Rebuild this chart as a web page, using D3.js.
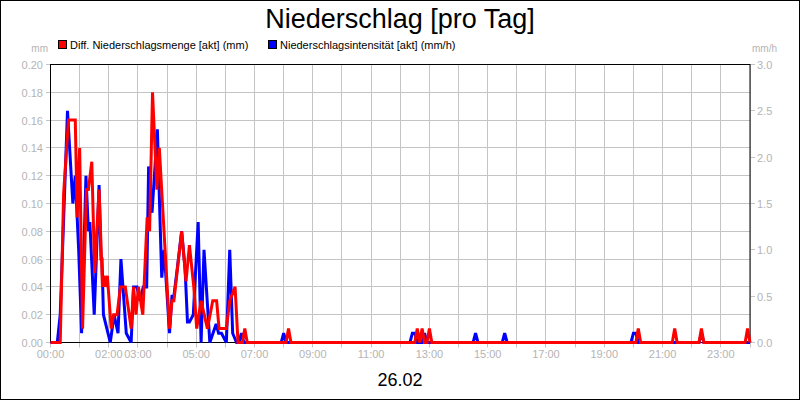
<!DOCTYPE html>
<html><head><meta charset="utf-8">
<script src="https://cdn.jsdelivr.net/npm/d3@7"></script>
<style>body{margin:0;background:#fff}svg{display:block;font-family:"Liberation Sans",Arial,sans-serif}</style>
</head><body>
<svg id="c" width="800" height="400"></svg>
<script>
// ---- data ----
const title = "Niederschlag [pro Tag]";
const dateLabel = "26.02";
const legendLabels = ["Diff. Niederschlagsmenge [akt] (mm)", "Niederschlagsintensität [akt] (mm/h)"];
const seriesColors = ["#ff0000", "#0000ff"];
const leftUnit = "mm", rightUnit = "mm/h";
const leftTicks = [0,0.02,0.04,0.06,0.08,0.10,0.12,0.14,0.16,0.18,0.20];
const rightTicks = [0,0.5,1.0,1.5,2.0,2.5,3.0];
const xTickHours = [0,2,3,5,7,9,11,13,15,17,19,21,23];
const xTickLabels = ["00:00","02:00","03:00","05:00","07:00","09:00","11:00","13:00","15:00","17:00","19:00","21:00","23:00"];
// minutes after midnight
const redTimes = [0,20,27,37,51,55,60,66,74,78,85,91,100,107,110,113,117,125,130,137,144,154,166,171,176,181,190,199,204,210,219,224,245,250,254,261,270,279,286,295,301,310,323,334,342,347,362,369,380,386,395,400,405,485,490,495,750,755,760,765,770,775,780,785,1205,1210,1215,1280,1285,1290,1335,1340,1345,1430,1435,1440];
const redValues = [0,0,0.107,0.16,0.16,0.09,0.14,0.01,0.11,0.11,0.13,0.05,0.11,0.04,0.048,0.04,0.048,0.01,0.02,0.02,0.04,0.04,0.01,0.04,0.02,0.04,0.02,0.09,0.08,0.18,0.11,0.14,0.01,0.03,0.03,0.052,0.08,0.044,0.07,0.04,0.01,0.03,0.01,0.03,0.03,0.01,0.01,0.03,0.04,0,0,0.01,0,0,0.01,0,0,0.01,0,0.01,0,0,0.01,0,0,0.01,0,0,0.01,0,0,0.01,0,0,0.01,0];
const blueTimes = [0,14,20,35,44,46,51,58,64,73,78,81,90,100,104,106,109,123,131,139,145,156,166,171,178,184,191,198,202,209,220,229,234,245,250,254,261,270,277,282,286,294,304,310,316,328,341,346,352,362,369,375,383,388,393,398,475,480,485,740,745,750,755,765,770,775,870,875,880,930,935,940,1195,1200,1205,1210,1335,1340,1345,1440];
const blueValues = [0,0,0.3,2.5,1.68,1.5,1.8,1.0,0.1,1.8,1.2,1.3,0.3,1.7,0.9,0.9,0.3,0,0.3,0.1,0.9,0.1,0,0.6,0.6,0.45,0.6,0.6,1.9,1.4,2.3,0.7,1.0,0.1,0.5,0.5,0.8,1.2,0.8,0.22,0.22,0.3,1.3,0,1.0,0,0.2,0.1,0.1,0,1.0,0.1,0,0,0.1,0,0,0.1,0,0,0.1,0.1,0,0,0.1,0,0,0.1,0,0,0.1,0,0,0.1,0.1,0,0,0.1,0,0];

// ---- layout ----
const svg = d3.select("#c");
const L = 50.5, R = 750, T = 64.5, B = 342.5;
const x = d3.scaleLinear().domain([0, 1440]).range([L, R]);
const yL = d3.scaleLinear().domain([0, 0.2]).range([B, T]);
const yR = d3.scaleLinear().domain([0, 3]).range([B, T]);
const grey = "#b4b4b4", gridC = "#c4c4c4";
const snap = v => Math.round(v - 0.5) + 0.5;

// outer frame
svg.append("rect").attr("x",0.5).attr("y",0.5).attr("width",799).attr("height",399)
  .attr("fill","#fff").attr("stroke","#000");

// title
svg.append("text").attr("x",400).attr("y",28).attr("text-anchor","middle")
  .attr("font-size",27).attr("fill","#000").text(title);
svg.append("text").attr("x",400).attr("y",386).attr("text-anchor","middle")
  .attr("font-size",18).attr("fill","#000").text(dateLabel);

// legend
const legX = [58, 268];
legendLabels.forEach((t,i)=>{
  svg.append("rect").attr("x",legX[i]+0.5).attr("y",40.5).attr("width",8).attr("height",8)
    .attr("fill",seriesColors[i]).attr("stroke","#000");
  svg.append("text").attr("x",legX[i]+12).attr("y",48.5).attr("font-size",11).attr("fill","#000").text(t);
});

// units
svg.append("text").attr("x",48).attr("y",52).attr("text-anchor","end").attr("font-size",10).attr("fill",grey).text(leftUnit);
svg.append("text").attr("x",752).attr("y",52).attr("font-size",10).attr("fill",grey).text(rightUnit);

// horizontal grid + left/right ticks
const g = svg.append("g");
leftTicks.forEach(v=>{
  const yy = snap(yL(v));
  g.append("line").attr("x1",46).attr("x2",R).attr("y1",yy).attr("y2",yy).attr("stroke",gridC);
  svg.append("text").attr("x",43).attr("y",yy+4).attr("text-anchor","end").attr("font-size",11).attr("fill",grey).text(v.toFixed(2));
});
rightTicks.forEach(v=>{
  const yy = snap(yR(v));
  g.append("line").attr("x1",R).attr("x2",755).attr("y1",yy).attr("y2",yy).attr("stroke",gridC);
  svg.append("text").attr("x",757).attr("y",yy+4).attr("font-size",11).attr("fill",grey).text(v.toFixed(1));
});
// vertical grid (hourly) + bottom ticks
d3.range(0,25).forEach(h=>{
  const xx = snap(x(h*60));
  g.append("line").attr("x1",xx).attr("x2",xx).attr("y1",T).attr("y2",B+5).attr("stroke",gridC);
});
xTickHours.forEach((h,i)=>{
  svg.append("text").attr("x",x(h*60)).attr("y",358).attr("text-anchor","middle")
    .attr("font-size",11).attr("fill",grey).text(xTickLabels[i]);
});

// plot frame
svg.append("rect").attr("x",L).attr("y",T).attr("width",R-L).attr("height",B-T)
  .attr("fill","none").attr("stroke","#000");

// series
const blueData = blueTimes.map((t,i)=>[t, blueValues[i]]);
const redData = redTimes.map((t,i)=>[t, redValues[i]]);
svg.append("path").datum(blueData)
  .attr("d", d3.line().x(d=>x(d[0])).y(d=>yR(d[1])))
  .attr("fill","none").attr("stroke",seriesColors[1]).attr("stroke-width",3).attr("stroke-linejoin","miter").attr("stroke-miterlimit",2);
svg.append("path").datum(redData)
  .attr("d", d3.line().x(d=>x(d[0])).y(d=>yL(d[1])))
  .attr("fill","none").attr("stroke",seriesColors[0]).attr("stroke-width",3).attr("stroke-linejoin","miter").attr("stroke-miterlimit",2);
</script>
</body></html>
